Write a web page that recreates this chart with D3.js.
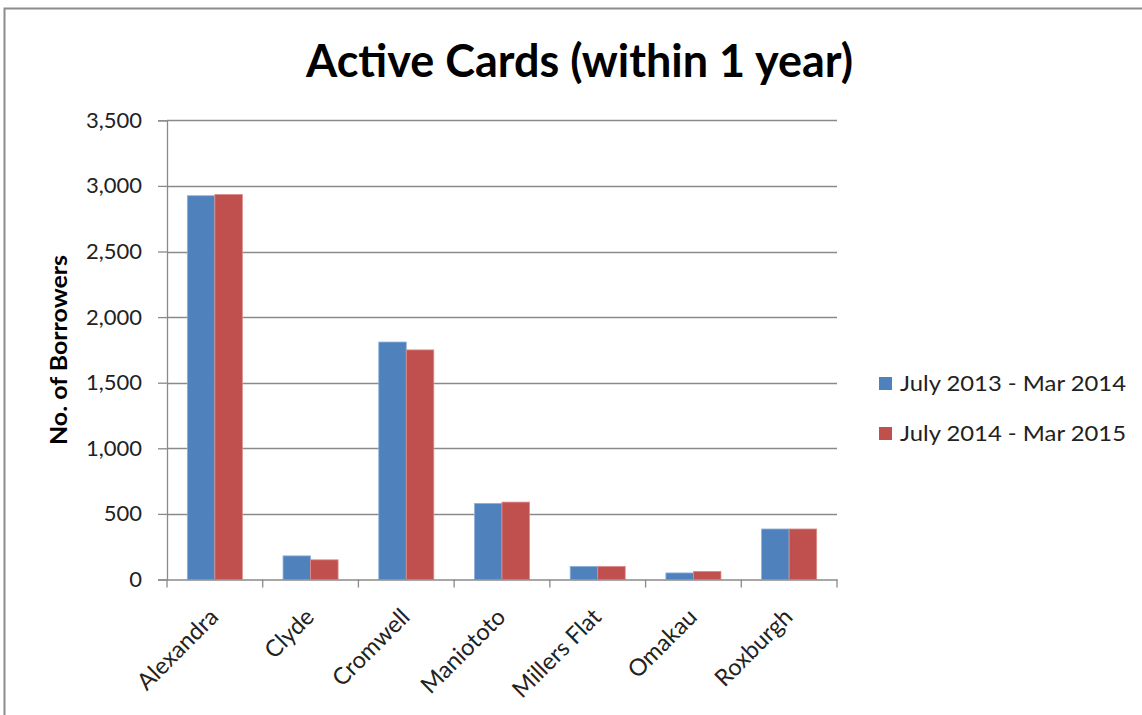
<!DOCTYPE html>
<html>
<head>
<meta charset="utf-8">
<script src="https://cdn.jsdelivr.net/npm/d3@7"></script>
<style>
  html, body { margin: 0; padding: 0; background: #fff; }
  svg { display: block; }
  text { font-family: Lato, "Open Sans", sans-serif; }
</style>
</head>
<body>
<svg id="chart" width="1142" height="715"></svg>
<script>
// Active library cards per branch, two reporting periods
const branches = ["Alexandra", "Clyde", "Cromwell", "Maniototo", "Millers Flat", "Omakau", "Roxburgh"];
const seriesNames = ["July 2013 - Mar 2014", "July 2014 - Mar 2015"];
const period2013 = [2925, 180, 1810, 580, 100, 50, 385];
const period2014 = [2935, 150, 1750, 590, 100, 62, 385];
const yTicks = [0, 500, 1000, 1500, 2000, 2500, 3000, 3500];
const colors = ["#4F81BD", "#C0504D"];
const edgeColors = ["#8EB0DA", "#DE8D8B"];

const seriesValues = [period2013, period2014];

const svg = d3.select("#chart");
const W = 1142, H = 715;

// outer chart frame
svg.append("rect")
  .attr("x", 4.5).attr("y", 8.5)
  .attr("width", W + 10).attr("height", H + 10)
  .attr("fill", "#fff").attr("stroke", "#8c8c8c").attr("stroke-width", 2);

const plot = { left: 167, right: 837, top: 120.3, bottom: 579.5 };

const y = d3.scaleLinear().domain([0, 3500]).range([plot.bottom, plot.top]);
const x = d3.scaleBand().domain(branches).range([plot.left, plot.right]).padding(0);
const barW = x.bandwidth() * 0.2875;

// title
svg.append("text")
  .attr("x", 579.5).attr("y", 77)
  .attr("text-anchor", "middle")
  .attr("font-size", 45).attr("font-weight", "bold")
  .attr("textLength", 547).attr("lengthAdjust", "spacingAndGlyphs")
  .attr("fill", "#000")
  .text("Active Cards (within 1 year)");

// gridlines
svg.append("g").selectAll("line")
  .data(yTicks.filter(d => d > 0))
  .join("line")
  .attr("x1", plot.left).attr("x2", plot.right)
  .attr("y1", d => Math.round(y(d)) + 0.5).attr("y2", d => Math.round(y(d)) + 0.5)
  .attr("stroke", "#8a8a8a").attr("stroke-width", 1.3);

// bars
const groups = svg.append("g").selectAll("g")
  .data(seriesValues)
  .join("g");

groups.each(function(vals, si) {
  d3.select(this).selectAll("rect")
    .data(vals)
    .join("rect")
    .attr("x", (d, i) => x(branches[i]) + x.bandwidth() / 2 - barW + si * barW)
    .attr("y", d => y(d))
    .attr("width", barW)
    .attr("height", d => plot.bottom - y(d))
    .attr("fill", colors[si])
    .attr("stroke", edgeColors[si])
    .attr("stroke-width", 0.8);
});

// y axis
const yAxis = d3.axisLeft(y).tickValues(yTicks).tickFormat(d3.format(",")).tickSize(9).tickPadding(16);
const gy = svg.append("g").attr("transform", `translate(${plot.left},0)`).call(yAxis);
gy.select(".domain").attr("stroke", "#8a8a8a").attr("stroke-width", 1.3);
gy.selectAll(".tick line").attr("stroke", "#8a8a8a").attr("stroke-width", 1.3);
gy.selectAll(".tick text")
  .attr("font-family", "Lato, sans-serif")
  .attr("font-size", 22).attr("fill", "#222");

// x axis
const xAxis = d3.axisBottom(x).tickSize(0).tickFormat("");
const gx = svg.append("g").attr("transform", `translate(0,${plot.bottom})`).call(xAxis);
gx.select(".domain").attr("stroke", "#8a8a8a").attr("stroke-width", 1.3);
// category separators
gx.append("g").selectAll("line")
  .data(branches.map(b => x(b)).concat([plot.right]))
  .join("line")
  .attr("x1", d => d).attr("x2", d => d)
  .attr("y1", 0).attr("y2", 8)
  .attr("stroke", "#8a8a8a").attr("stroke-width", 1.3);

// rotated category labels
svg.append("g").selectAll("text")
  .data(branches)
  .join("text")
  .attr("transform", d => `translate(${x(d) + x.bandwidth() / 2 + 5},${plot.bottom + 39}) rotate(-45)`)
  .attr("text-anchor", "end")
  .attr("font-size", 23.5).attr("fill", "#222")
  .text(d => d);

// y axis title
svg.append("text")
  .attr("transform", `translate(67,350) rotate(-90)`)
  .attr("text-anchor", "middle")
  .attr("font-size", 23).attr("font-weight", "bold").attr("fill", "#000")
  .attr("textLength", 190).attr("lengthAdjust", "spacingAndGlyphs")
  .text("No. of Borrowers");

// legend
const legend = svg.append("g").selectAll("g")
  .data(seriesNames)
  .join("g")
  .attr("transform", (d, i) => `translate(879,${377 + i * 50})`);
legend.append("rect")
  .attr("width", 13).attr("height", 13)
  .attr("fill", (d, i) => colors[i]);
legend.append("text")
  .attr("x", 21).attr("y", 14)
  .attr("font-size", 22).attr("fill", "#222")
  .attr("textLength", 226).attr("lengthAdjust", "spacingAndGlyphs")
  .text(d => d);
</script>
</body>
</html>
